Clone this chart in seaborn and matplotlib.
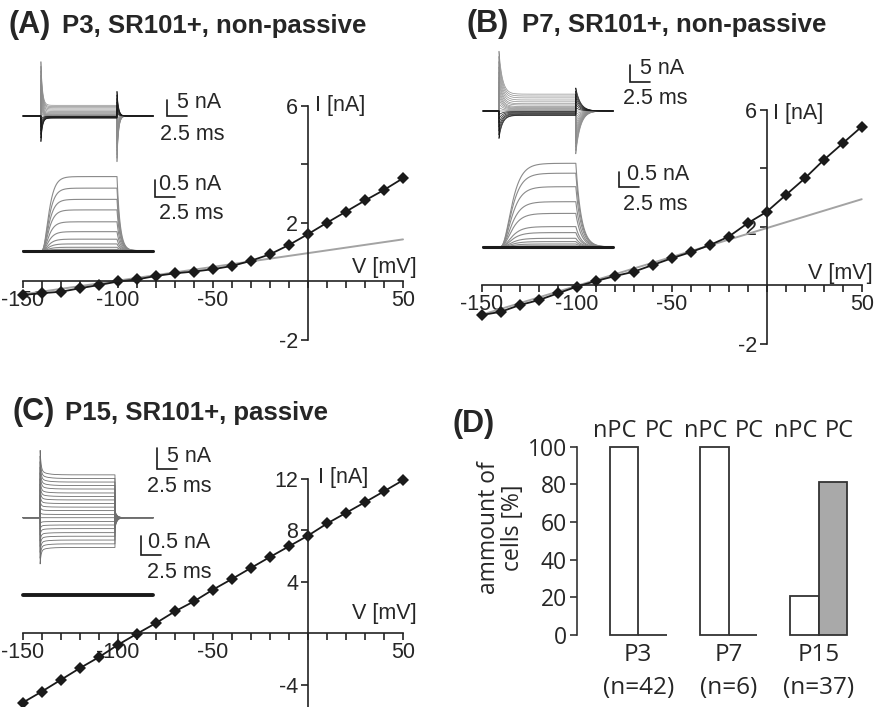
import numpy as np
import pandas as pd
import matplotlib
import matplotlib.pyplot as plt
import seaborn as sns
from matplotlib import transforms

matplotlib.use('agg')

# ---- data ----
VOLTAGES = [-150, -140, -130, -120, -110, -100, -90, -80, -70, -60, -50,
            -40, -30, -20, -10, 0, 10, 20, 30, 40, 50]
A_I = [-0.46, -0.40, -0.35, -0.23, -0.12, 0.00, 0.07, 0.19, 0.28, 0.34, 0.42,
       0.53, 0.71, 0.93, 1.25, 1.62, 2.01, 2.39, 2.77, 3.13, 3.53]
B_I = [-1.01, -0.90, -0.67, -0.50, -0.27, -0.04, 0.15, 0.32, 0.47, 0.70, 0.93,
       1.14, 1.38, 1.67, 2.13, 2.52, 3.09, 3.66, 4.29, 4.86, 5.43]
C_I = [-5.38, -4.52, -3.61, -2.70, -1.85, -0.89, -0.03, 0.80, 1.71, 2.49, 3.40,
       4.23, 5.09, 5.94, 6.77, 7.60, 8.54, 9.37, 10.20, 11.05, 11.91]
FIT_V = [-150, 50]
A_FIT = [-0.44, 1.44]
B_FIT = [-1.00, 2.95]

# leak-subtracted outward currents (nA), steps +50 ... -50 mV
A_OUT = [2.18, 1.84, 1.51, 1.20, 0.85, 0.56, 0.34, 0.20, 0.10, 0.04, 0.02]
B_OUT = [2.79, 2.46, 2.01, 1.51, 1.12, 0.68, 0.48, 0.29, 0.18, 0.10, 0.04]

X_TICKS = list(range(-150, 51, 10))
X_LABELS = ['-150' if v == -150 else '-100' if v == -100 else '-50' if v == -50
            else '50' if v == 50 else '' for v in X_TICKS]

D_AGES = ['P3', 'P7', 'P15']
D_N = ['(n=42)', '(n=6)', '(n=37)']
D_NPC = [100, 100, 20.7]
D_PC = [0, 0, 81.4]

# ---- figure ----
W, H = 875, 707
sns.set_theme(style='white')
plt.rcParams['font.family'] = ['Liberation Sans', 'DejaVu Sans']
plt.rcParams['axes.linewidth'] = 1.2
fig = plt.figure(figsize=(W / 100, H / 100), dpi=100)


def px_box(l, r, t, b):
    return [l / W, 1 - b / H, (r - l) / W, (b - t) / H]


def ftext(px, py, s, **kw):
    kw.setdefault('fontsize', 15.5)
    fig.text(px / W, 1 - py / H, s, **kw)


# panel titles
for lab, title, xl, xt, base in [('(A)', 'P3, SR101+, non-passive', 8, 62, 33),
                                 ('(B)', 'P7, SR101+, non-passive', 467, 522, 32),
                                 ('(C)', 'P15, SR101+, passive', 12, 65, 420)]:
    ftext(xl, base, lab, fontsize=22, fontweight='bold', va='baseline')
    ftext(xt, base, title, fontsize=18.5, fontweight='bold', va='baseline')
ftext(453, 431.7, '(D)', fontsize=22, fontweight='bold', va='baseline')


def iv_panel(box, ylim, current, fit, yticks, ylabels, ilab, vlab):
    ax = fig.add_axes(px_box(*box))
    if fit is not None:
        sns.lineplot(x=FIT_V, y=fit, color='#a3a3a3', lw=1.4, ax=ax, clip_on=False)
    sns.lineplot(x=VOLTAGES, y=current, color='k', lw=1.3, marker='D',
                 markersize=6.5, markeredgewidth=0, ax=ax, clip_on=False)
    ax.set_xlim(-150, 50)
    ax.set_ylim(*ylim)
    ax.patch.set_alpha(0)
    ax.set_xlabel('')
    ax.set_ylabel('')
    for s in ['top', 'right']:
        ax.spines[s].set_visible(False)
    ax.spines['left'].set_position(('data', 0))
    ax.spines['bottom'].set_position(('data', 0))
    ax.spines['left'].set_bounds(ylim[0], yticks[-1])
    ax.spines['bottom'].set_bounds(-150, 50)
    for s in ['left', 'bottom']:
        ax.spines[s].set_color('#222222')
        ax.spines[s].set_linewidth(1.2)
    ax.set_xticks(X_TICKS)
    ax.set_xticklabels(X_LABELS)
    ax.set_yticks(yticks)
    ax.set_yticklabels(ylabels)
    ax.tick_params(axis='x', direction='out', length=5, width=1.2, pad=1,
                   labelsize=15.5, bottom=True, color='#222222')
    ax.tick_params(axis='y', direction='out', length=5, width=1.2, pad=2,
                   labelsize=15.5, left=True, color='#222222')
    ftext(ilab[0], ilab[1], 'I [nA]', va='center', ha='left')
    ftext(vlab[0], vlab[1], 'V [mV]', va='center', ha='right')
    return ax


iv_panel((23, 403, 106, 340), (-2, 6), A_I, A_FIT, [-2, 2, 4, 6], ['-2', '2', '', '6'],
         (315, 106), (417, 267))
iv_panel((481.7, 861.7, 110, 344), (-2, 6), B_I, B_FIT, [-2, 2, 4, 6], ['-2', '2', '', '6'],
         (773, 113), (873, 273))
iv_panel((22.7, 403.3, 478.9, 706.8), (-5.7, 12), C_I, None, [-4, 4, 8, 12],
         ['-4', '4', '8', '12'], (318, 477), (417, 613))

# ---- inset current traces ----
SX = 7.8   # px per ms
T_END = 16.7


def trace_axes(px0, py0, sy, ilim, tlim=(0, 22)):
    l, r = px0 + tlim[0] * SX, px0 + tlim[1] * SX
    t, b = py0 - ilim[1] * sy, py0 - ilim[0] * sy
    ax = fig.add_axes(px_box(l, r, t, b))
    ax.set_xlim(tlim)
    ax.set_ylim(ilim)
    ax.axis('off')
    return ax


def time_base(t_on, t_off):
    return np.sort(np.concatenate([np.linspace(0, T_END, 1600), [t_on, t_off]]))


def pulse_family(hold, current, t_on, t_off, k_on, k_off, tau_on, tau_off,
                 slow=0.0, tau_slow=1.0):
    t = time_base(t_on, t_off)
    i_hold = current[VOLTAGES.index(hold)]
    frames = []
    for v, iv in zip(VOLTAGES, current):
        dv = v - hold
        amp = iv - i_hold
        y = np.zeros_like(t)
        on = (t >= t_on) & (t < t_off)
        y[on] = (amp + k_on * dv * np.exp(-(t[on] - t_on) / tau_on)
                 + slow * amp * np.exp(-(t[on] - t_on) / tau_slow))
        off = t >= t_off
        y[off] = -k_off * dv * np.exp(-(t[off] - t_off) / tau_off)
        frames.append(pd.DataFrame({'t': t, 'i': y, 'step': v, 'hyper': dv < 0}))
    return pd.concat(frames, ignore_index=True)


def outward_family(amps, t_on, t_off, tau_act, tau_deact):
    t = time_base(t_on, t_off)
    frames = []
    for k, a in enumerate(amps):
        y = np.zeros_like(t)
        on = (t >= t_on) & (t < t_off)
        y[on] = a * (1 - np.exp(-(t[on] - t_on) / tau_act)) ** 4
        y_end = a * (1 - np.exp(-(t_off - t_on) / tau_act)) ** 4
        off = t >= t_off
        y[off] = y_end * np.exp(-(t[off] - t_off) / tau_deact)
        frames.append(pd.DataFrame({'t': t, 'i': y, 'step': k}))
    return pd.concat(frames, ignore_index=True)


def draw_family(ax, df, hyper_color='k', depol_color='#8c8c8c', lw=0.5):
    if 'hyper' in df:
        parts = [(df[~df['hyper']], depol_color), (df[df['hyper']], hyper_color)]
    else:
        parts = [(df, depol_color)]
    for part, col in parts:
        sns.lineplot(data=part, x='t', y='i', units='step', estimator=None,
                     color=col, lw=lw, ax=ax, legend=False, clip_on=False)
    ax.set_xlim(0, 22)
    ax.axis('off')


def baseline(ax, lw=2.2):
    sns.lineplot(x=[0, T_END], y=[0, 0], color='k', lw=lw, ax=ax, clip_on=False)


def scalebar(ax, px0, py0, sy, px, py, di):
    t0, i0 = (px - px0) / SX, (py0 - py) / sy
    ax.plot([t0, t0, t0 + 2.5], [i0 + di, i0, i0], color='k', lw=1.2,
            clip_on=False, solid_joinstyle='miter')


# A insets
ax = trace_axes(23, 116, 3.2, (-16, 18))
draw_family(ax, pulse_family(-80, A_I, 2.3, 12.05, 0.105, 0.11, 0.2, 0.2))
scalebar(ax, 23, 116, 3.2, 167, 116, 5)
ax = trace_axes(23, 250.7, 34, (-0.3, 2.4))
draw_family(ax, outward_family(A_OUT, 2.3, 12.05, 0.55, 0.4), depol_color='#8a8a8a', lw=0.8)
baseline(ax)
scalebar(ax, 23, 250.7, 34, 155, 197, 0.5)
ftext(177, 103, '5 nA', va='center')
ftext(192, 135, '2.5 ms', va='center', ha='center')
ftext(159, 185, '0.5 nA', va='center')
ftext(191, 213, '2.5 ms', va='center', ha='center')

# B insets
ax = trace_axes(483, 111, 3.3, (-16, 18))
draw_family(ax, pulse_family(-80, B_I, 2.05, 11.9, 0.10, 0.10, 0.45, 0.6))
scalebar(ax, 483, 111, 3.3, 630, 82, 5)
ax = trace_axes(483, 247, 30, (-0.3, 3.0))
draw_family(ax, outward_family(B_OUT, 2.05, 11.9, 0.9, 0.7), depol_color='#8a8a8a', lw=0.8)
baseline(ax)
scalebar(ax, 483, 247, 30, 619, 187, 0.5)
ftext(640, 68, '5 nA', va='center')
ftext(655, 99, '2.5 ms', va='center', ha='center')
ftext(627, 175, '0.5 nA', va='center')
ftext(655, 205, '2.5 ms', va='center', ha='center')

# C insets
ax = trace_axes(23, 517.7, 4.2, (-12, 20))
draw_family(ax, pulse_family(-70, C_I, 2.2, 11.8, 0.04, 0.02, 0.12, 0.25, slow=0.1, tau_slow=0.8),
            hyper_color='#6e6e6e', depol_color='#6e6e6e', lw=0.6)
scalebar(ax, 23, 517.7, 4.2, 157, 469, 5)
ax = trace_axes(23, 595, 38, (-0.3, 1.6))
baseline(ax, lw=2.8)
scalebar(ax, 23, 595, 38, 141, 555, 0.5)
ftext(167, 457, '5 nA', va='center')
ftext(179, 487, '2.5 ms', va='center', ha='center')
ftext(148, 542, '0.5 nA', va='center')
ftext(179, 573, '2.5 ms', va='center', ha='center')

# ---- panel D ----
DFONT = 'Open Sans'
df_d = pd.DataFrame({
    'age': D_AGES * 2,
    'pct': D_NPC + D_PC,
    'type': ['nPC'] * 3 + ['PC'] * 3,
})
ax_d = fig.add_axes(px_box(576.7, 870, 446.7, 635))
sns.barplot(data=df_d, x='age', y='pct', hue='type', order=D_AGES,
            hue_order=['nPC', 'PC'], palette={'nPC': 'white', 'PC': '#a9a9a9'},
            width=0.63, saturation=1, edgecolor='#333333', linewidth=1.3,
            errorbar=None, legend=False, ax=ax_d)
for p in ax_d.patches:
    p.set_clip_on(False)
ax_d.set_xlim(-0.681, 2.566)
ax_d.set_ylim(0, 100)
ax_d.patch.set_alpha(0)
for s in ['top', 'right', 'bottom']:
    ax_d.spines[s].set_visible(False)
ax_d.spines['left'].set_color('#333333')
ax_d.set_xticks([])
ax_d.set_xlabel('')
ax_d.set_ylabel('')
ax_d.set_yticks([0, 20, 40, 60, 80, 100])
ax_d.tick_params(axis='y', direction='out', length=5, width=1.2, pad=2,
                 labelsize=16.5, left=True, color='#333333', labelfontfamily=DFONT)
trans = transforms.blended_transform_factory(ax_d.transData, ax_d.transAxes)
for k, (age, n) in enumerate(zip(D_AGES, D_N)):
    ax_d.text(k - 0.258, 1.083, 'nPC', transform=trans, ha='center', va='center',
              fontsize=17, family=DFONT)
    ax_d.text(k + 0.23, 1.083, 'PC', transform=trans, ha='center', va='center',
              fontsize=17, family=DFONT)
    ax_d.text(k, -0.106, age, transform=trans, ha='center', va='center',
              fontsize=17.5, family=DFONT)
    ax_d.text(k, -0.281, n, transform=trans, ha='center', va='center',
              fontsize=17.5, family=DFONT)
ftext(501, 528, 'ammount of\ncells [%]', rotation=90, ha='center', va='center',
      fontsize=16.5, family=DFONT, linespacing=1.05)

fig.savefig('out.png', dpi=100)
